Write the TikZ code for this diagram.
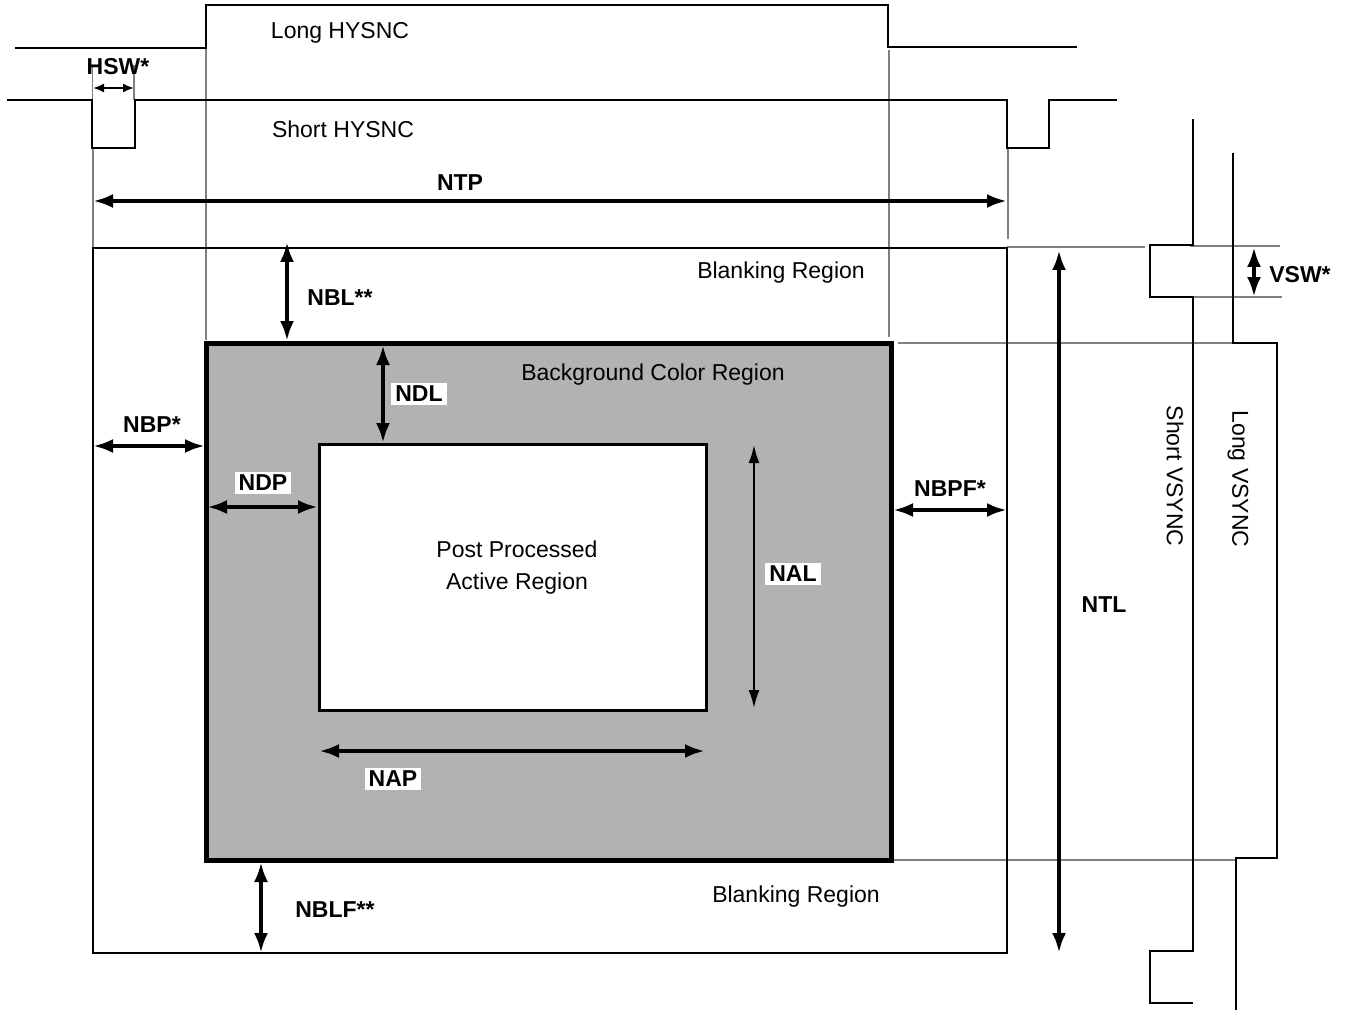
\documentclass[tikz,border=0pt]{standalone}
\usepackage{fontspec}
\setmainfont{Liberation Sans}
\usetikzlibrary{arrows.meta,positioning}
\tikzset{
  sig/.style={line width=2pt},
  guide/.style={line width=1.5pt,draw=black!50},
  dimarrow/.style={line width=4pt,{Latex[length=20pt,width=14pt]}-{Latex[length=20pt,width=14pt]}},
  slimarrow/.style={line width=2pt,{Latex[length=18pt,width=11pt]}-{Latex[length=18pt,width=11pt]}},
  tinyarrow/.style={line width=2pt,{Latex[length=11pt,width=9pt]}-{Latex[length=11pt,width=9pt]}},
  txt/.style={font=\fontsize{23}{32}\selectfont,inner sep=1pt,yshift=-2pt},
  btxt/.style={font=\fontsize{23}{27}\selectfont\bfseries,inner sep=1pt,yshift=-2pt},
  tag/.style={btxt,fill=white,inner xsep=4pt,inner ysep=3pt},
  vtxt/.style={font=\fontsize{23}{27}\selectfont,inner sep=1pt,rotate=-90},
  region/.style={draw,rectangle,outer sep=0pt,inner sep=0pt}
}
\begin{document}
\begin{tikzpicture}[x=1pt,y=-1pt]
\useasboundingbox (0,0) rectangle (1347,1011);
% guide lines
\draw[guide] (92.5,65) -- (92.5,100) (134,65) -- (134,100);
\draw[guide] (93,148) -- (93,248);
\draw[guide] (206,48) -- (206,340);
\draw[guide] (889,50) -- (889,337);
\draw[guide] (1008,148) -- (1008,239);
\draw[guide] (1007,247) -- (1145,247);
\draw[guide] (1190,246) -- (1280,246);
\draw[guide] (1192,297) -- (1282,297);
\draw[guide] (898,343) -- (1233,343);
\draw[guide] (893,860) -- (1237,860);
% sync signals
\draw[sig] (15,48) -- (206,48) -- (206,5) -- (888,5) -- (888,47) -- (1077,47);
\draw[sig] (7,100) -- (92,100) -- (92,148) -- (135,148) -- (135,100) -- (1007,100)
  -- (1007,148) -- (1049,148) -- (1049,100) -- (1117,100);
\draw[sig] (1193,119) -- (1193,245) -- (1150,245) -- (1150,297) -- (1193,297)
  -- (1193,951) -- (1150,951) -- (1150,1003) -- (1193,1003);
\draw[sig] (1233,153) -- (1233,343) -- (1277,343) -- (1277,858) -- (1236,858) -- (1236,1010);
% regions
\node[region,line width=2pt,minimum width=914pt,minimum height=705pt] (blank) at (550,600.5) {};
\node[region,line width=5pt,fill=black!30,minimum width=685pt,minimum height=517pt] (bg) at (548.5,601.5) {};
\node[region,line width=3pt,fill=white,minimum width=387pt,minimum height=266pt] (active) at (512.5,577) {};
% arrow ends
\coordinate (hswL) at (93,88);   \coordinate (hswR) at (134,88);
\coordinate (ntpL) at (93,201);  \coordinate (ntpR) at (1007,201);
\coordinate (nblT) at (287,242); \coordinate (nblB) at (287,341);
\coordinate (ntlT) at (1059,250);\coordinate (ntlB) at (1059,953);
\coordinate (vswT) at (1254,247);\coordinate (vswB) at (1254,297);
\coordinate (ndlT) at (383,345); \coordinate (ndlB) at (383,443);
\coordinate (nbpL) at (93,446);  \coordinate (nbpR) at (205,446);
\coordinate (ndpL) at (207,507); \coordinate (ndpR) at (318,507);
\coordinate (nbpfL) at (893,510);\coordinate (nbpfR) at (1007,510);
\coordinate (nalT) at (754,445); \coordinate (nalB) at (754,708);
\coordinate (napL) at (319,751); \coordinate (napR) at (705,751);
\coordinate (nblfT) at (261,862);\coordinate (nblfB) at (261,953);
\draw[tinyarrow] (hswL) -- (hswR);
\draw[dimarrow] (ntpL) -- (ntpR);
\draw[dimarrow] (nblT) -- (nblB);
\draw[dimarrow] (ntlT) -- (ntlB);
\draw[dimarrow] (vswT) -- (vswB);
\draw[dimarrow] (ndlT) -- (ndlB);
\draw[dimarrow] (nbpL) -- (nbpR);
\draw[dimarrow] (ndpL) -- (ndpR);
\draw[dimarrow] (nbpfL) -- (nbpfR);
\draw[slimarrow] (nalT) -- (nalB);
\draw[dimarrow] (napL) -- (napR);
\draw[dimarrow] (nblfT) -- (nblfB);
% labels
\node[txt] (longh) at (340,31) {Long HYSNC};
\node[txt] (shorth) at (343,127) {Short HYSNC};
\node[btxt] (hsw) at (118,65) {HSW*};
\node[btxt] (ntp) at (460,181) {NTP};
\node[txt] (blanktop) at (781,271) {Blanking Region};
\node[btxt] (nbl) at (340,296) {NBL**};
\node[txt] (bgname) at (653,373) {Background Color Region};
\node[tag] (ndl) at (419,392) {NDL};
\node[btxt] (nbp) at (152,423) {NBP*};
\node[tag] (ndp) at (263,481) {NDP};
\node[btxt] (nbpf) at (950,487) {NBPF*};
\node[txt,align=center] (activename) at (517,566) {Post Processed\\Active Region};
\node[tag] (nal) at (793,572) {NAL};
\node[btxt] (ntl) at (1104,603) {NTL};
\node[tag] (nap) at (393,777) {NAP};
\node[txt] (blankbot) at (796,895) {Blanking Region};
\node[btxt] (nblf) at (335,908) {NBLF**};
\node[btxt] (vsw) at (1300,273) {VSW*};
\node[vtxt] (shortv) at (1175,476) {Short VSYNC};
\node[vtxt] (longv) at (1238,479) {Long VSYNC};
\end{tikzpicture}
\end{document}
